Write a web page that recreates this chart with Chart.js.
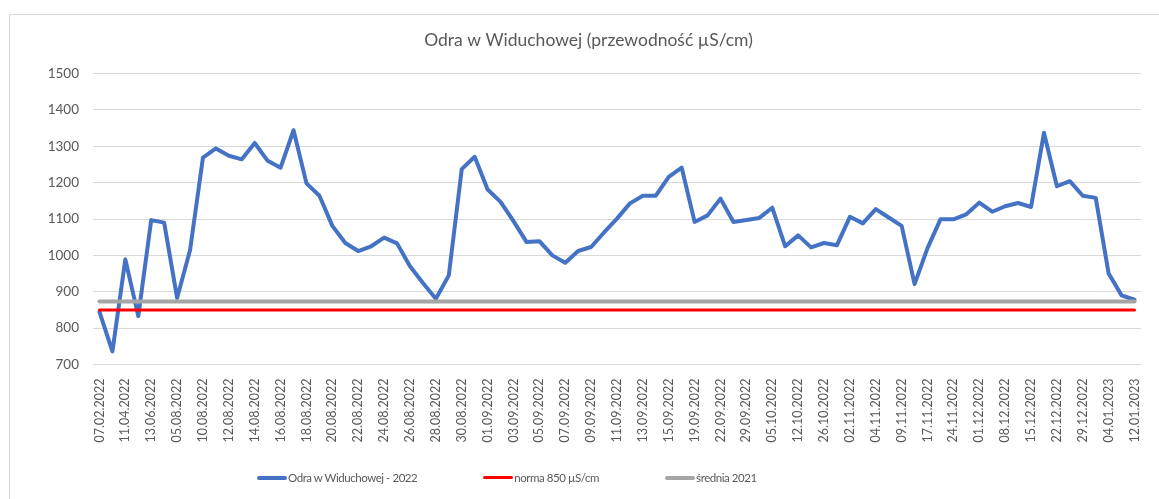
<!DOCTYPE html>
<html>
<head>
<meta charset="utf-8">
<script src="https://cdn.jsdelivr.net/npm/chart.js@4/dist/chart.umd.min.js"></script>
<style>
  html, body { margin: 0; padding: 0; background: #fff; overflow: hidden; }
  #wrap { position: relative; width: 1159px; height: 499px; }
  #frame { position: absolute; left: 9px; top: 14px; width: 1200px; height: 600px; border: 1px solid #d9d9d9; }
  #chart { position: absolute; left: 0; top: 0; }
  #legend { position: absolute; left: 257px; top: 471px; display: flex; gap: 66px; font: 11.5px Lato, sans-serif; letter-spacing: -0.45px; color: #595959; }
  #legend .item { display: flex; align-items: center; }
  #legend .swatch { width: 30px; border-radius: 2px; margin-right: 1px; }
</style>
</head>
<body>
<div id="wrap">
  <div id="frame"></div>
  <canvas id="chart" width="1159" height="499"></canvas>
  <div id="legend"></div>
</div>
<script>
const dates = [
  "07.02.2022", "14.03.2022", "11.04.2022", "16.05.2022", "13.06.2022", "11.07.2022",
  "05.08.2022", "08.08.2022", "10.08.2022", "11.08.2022", "12.08.2022", "13.08.2022",
  "14.08.2022", "15.08.2022", "16.08.2022", "17.08.2022", "18.08.2022", "19.08.2022",
  "20.08.2022", "21.08.2022", "22.08.2022", "23.08.2022", "24.08.2022", "25.08.2022",
  "26.08.2022", "27.08.2022", "28.08.2022", "29.08.2022", "30.08.2022", "31.08.2022",
  "01.09.2022", "02.09.2022", "03.09.2022", "04.09.2022", "05.09.2022", "06.09.2022",
  "07.09.2022", "08.09.2022", "09.09.2022", "10.09.2022", "11.09.2022", "12.09.2022",
  "13.09.2022", "14.09.2022", "15.09.2022", "16.09.2022", "19.09.2022", "20.09.2022",
  "22.09.2022", "26.09.2022", "29.09.2022", "03.10.2022", "05.10.2022", "10.10.2022",
  "12.10.2022", "19.10.2022", "26.10.2022", "28.10.2022", "02.11.2022", "03.11.2022",
  "04.11.2022", "07.11.2022", "09.11.2022", "14.11.2022", "17.11.2022", "21.11.2022",
  "24.11.2022", "28.11.2022", "01.12.2022", "05.12.2022", "08.12.2022", "12.12.2022",
  "15.12.2022", "19.12.2022", "22.12.2022", "27.12.2022", "29.12.2022", "02.01.2023",
  "04.01.2023", "09.01.2023", "12.01.2023"
];

// przewodność (µS/cm)
const odra2022 = [
  845, 736, 989, 833, 1097, 1090, 883, 1014, 1269, 1294,
  1274, 1264, 1309, 1260, 1241, 1344, 1198, 1164, 1081, 1034,
  1012, 1025, 1049, 1033, 970, 924, 881, 945, 1237, 1271,
  1181, 1147, 1094, 1037, 1039, 1000, 980, 1012, 1023, 1063,
  1101, 1143, 1164, 1164, 1216, 1241, 1092, 1110, 1156, 1092,
  1097, 1103, 1131, 1025, 1055, 1022, 1034, 1028, 1106, 1088,
  1127, 1104, 1081, 921, 1020, 1099, 1099, 1113, 1145, 1120,
  1135, 1144, 1133, 1337, 1190, 1204, 1164, 1158, 950, 890,
  878
];

const norma = 850;
const srednia2021 = 873;

const yTicks = { min: 700, max: 1500, step: 100 };

// constant lines from first to last measurement date
const flatLine = (v) => [{ x: dates[0], y: v }, { x: dates[dates.length - 1], y: v }];

const chart = new Chart(document.getElementById("chart").getContext("2d"), {
  type: "line",
  data: {
    labels: dates,
    datasets: [
      {
        label: "Odra w Widuchowej - 2022",
        data: odra2022,
        borderColor: "#4472C4",
        borderWidth: 4,
        order: 3
      },
      {
        label: "norma 850 µS/cm",
        data: flatLine(norma),
        borderColor: "#FF0000",
        borderWidth: 3,
        order: 2
      },
      {
        label: "średnia 2021",
        data: flatLine(srednia2021),
        borderColor: "#A5A5A5",
        borderWidth: 4,
        order: 1
      }
    ]
  },
  options: {
    responsive: false,
    animation: false,
    layout: { padding: { left: 36, right: 18, top: 0, bottom: 0 } },
    elements: {
      point: { radius: 0 },
      line: { tension: 0, fill: false, borderJoinStyle: "round", borderCapStyle: "round" }
    },
    scales: {
      x: {
        offset: true,
        grid: { display: false },
        border: { display: false },
        ticks: {
          autoSkip: false,
          minRotation: 90,
          maxRotation: 90,
          padding: 6,
          color: "#595959",
          font: { family: "Lato", size: 12.5 },
          callback: (v, i) => (i % 2 === 0 ? dates[i] : "")
        },
        afterFit: (scale) => { scale.height = 134.5; }
      },
      y: {
        min: yTicks.min,
        max: yTicks.max,
        grid: { color: "#d9d9d9", lineWidth: 1, drawTicks: false },
        border: { display: false },
        ticks: {
          stepSize: yTicks.step,
          padding: 14,
          color: "#595959",
          font: { family: "Lato", size: 13.5 },
          callback: (v) => String(v)
        },
        afterFit: (scale) => { scale.width = 57; }
      }
    },
    plugins: {
      legend: { display: false },
      tooltip: { enabled: false },
      title: {
        display: true,
        text: "Odra w Widuchowej (przewodność µS/cm)",
        color: "#595959",
        font: { family: "Lato", size: 17.5, weight: "normal" },
        padding: { top: 29.5, bottom: 23 }
      }
    }
  }
});

// legend built from the datasets, in series order
const legendEl = document.getElementById("legend");
chart.data.datasets.forEach((ds) => {
  const item = document.createElement("div");
  item.className = "item";
  const sw = document.createElement("span");
  sw.className = "swatch";
  sw.style.height = ds.borderWidth + "px";
  sw.style.background = ds.borderColor;
  const txt = document.createElement("span");
  txt.textContent = ds.label;
  item.appendChild(sw);
  item.appendChild(txt);
  legendEl.appendChild(item);
});
</script>
</body>
</html>
